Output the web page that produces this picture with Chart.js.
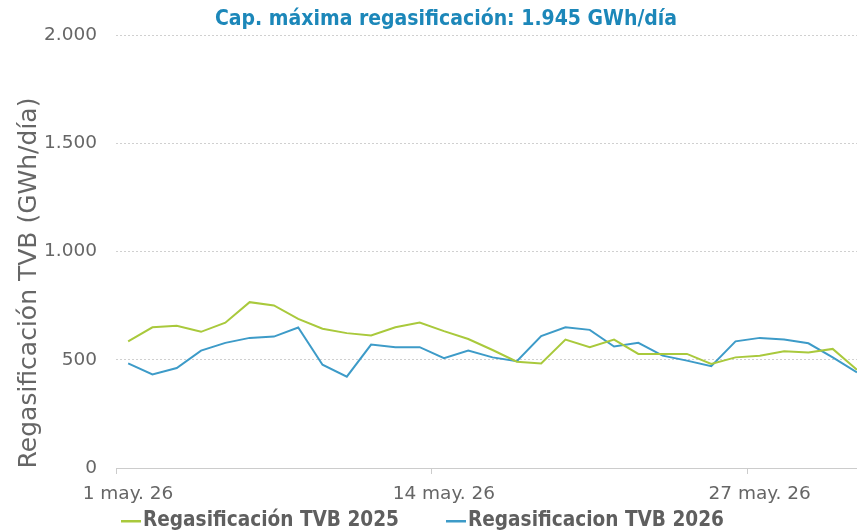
<!DOCTYPE html>
<html>
<head>
<meta charset="utf-8">
<script src="https://cdn.jsdelivr.net/npm/chart.js@4.4.1/dist/chart.umd.min.js"></script>
<style>
  html, body { margin: 0; padding: 0; background: #fff; }
  #wrap { width: 857px; height: 532px; }
</style>
</head>
<body>
<div id="wrap"><canvas id="regasChart"></canvas></div>
<script>
// Datos (GWh/día), un valor por día de mayo
var days = [1, 2, 3, 4, 5, 6, 7, 8, 9, 10, 11, 12, 13, 14, 15, 16, 17, 18, 19, 20, 21, 22, 23, 24, 25, 26, 27, 28, 29, 30, 31];
var regas2025 = [585, 650, 657, 629, 671, 766, 751, 689, 643, 623, 612, 650, 672, 632, 596, 545, 491, 483, 593, 558, 593, 527, 527, 527, 481, 511, 519, 539, 534, 550, 454];
var regas2026 = [483, 432, 462, 542, 578, 601, 607, 649, 477, 422, 570, 558, 558, 507, 542, 511, 493, 609, 650, 638, 561, 578, 519, 496, 470, 585, 601, 593, 576, 511, 442];
var tickDays = [1, 14, 27];
var tickLabels = ['1 may. 26', '14 may. 26', '27 may. 26'];
var chartTitle = 'Cap. máxima regasificación: 1.945 GWh/día';
var yTitle = 'Regasificación TVB (GWh/día)';

var verdana = "'DejaVu Sans', Verdana, sans-serif";
var condensed = "'DejaVu Sans Condensed', 'Liberation Sans Narrow', sans-serif";

function toPoints(values) {
    return values.map(function (v, i) {
        return { x: days[i] - 0.5, y: v };
    });
}

// Título, título del eje Y y leyenda dibujados a mano
var extrasPlugin = {
    id: 'extras',
    afterDraw: function (chart) {
        var ctx = chart.ctx;
        var area = chart.chartArea;

        // título
        ctx.save();
        ctx.font = "bold 21px " + condensed;
        ctx.fillStyle = '#1c87b9';
        ctx.textAlign = 'center';
        ctx.textBaseline = 'alphabetic';
        ctx.fillText(chartTitle, 446, 25);
        ctx.restore();

        // eje Y
        ctx.save();
        ctx.translate(29, area.bottom - 185);
        ctx.rotate(-Math.PI / 2);
        ctx.font = "25px " + verdana;
        ctx.fillStyle = '#666666';
        ctx.textAlign = 'center';
        ctx.textBaseline = 'middle';
        ctx.fillText(yTitle, 0, 0);
        ctx.restore();

        // leyenda
        ctx.save();
        ctx.font = "bold 20.6px " + condensed;
        ctx.textBaseline = 'middle';
        ctx.textAlign = 'left';
        var x = 121;
        var y = 521;
        chart.data.datasets.forEach(function (ds) {
            ctx.fillStyle = ds.borderColor;
            ctx.fillRect(x, y - 1, 20, 2.5);
            ctx.fillStyle = '#5f5f5f';
            ctx.fillText(ds.label, x + 22, y);
            x += 22 + ctx.measureText(ds.label).width + 47;
        });
        ctx.restore();
    }
};

var ctx = document.getElementById('regasChart');
var myChart = new Chart(ctx, {
    type: 'line',
    data: {
        datasets: [{
            label: 'Regasificación TVB 2025',
            data: toPoints(regas2025),
            borderColor: '#a9c93c',
            borderWidth: 2,
            pointRadius: 0,
            tension: 0,
            fill: false
        }, {
            label: 'Regasificacion TVB 2026',
            data: toPoints(regas2026),
            borderColor: '#3d9bc8',
            borderWidth: 2,
            pointRadius: 0,
            tension: 0,
            fill: false
        }]
    },
    options: {
        responsive: true,
        maintainAspectRatio: false,
        animation: false,
        layout: { padding: { top: 35, left: 0, right: 0, bottom: 0 } },
        scales: {
            x: {
                type: 'linear',
                min: 0,
                max: 30.5,
                afterBuildTicks: function (scale) {
                    scale.ticks = tickDays.map(function (d) { return { value: d - 1 }; });
                },
                afterFit: function (scale) { scale.height = 64; },
                grid: {
                    drawOnChartArea: false,
                    drawTicks: true,
                    tickLength: 6,
                    color: '#cccccc'
                },
                border: { display: true, color: '#cccccc', width: 1 },
                ticks: {
                    color: '#666666',
                    font: { family: verdana, size: 18.5 },
                    padding: 9,
                    labelOffset: 12,
                    maxRotation: 0,
                    callback: function (value) {
                        var i = tickDays.indexOf(value + 1);
                        return i >= 0 ? tickLabels[i] : '';
                    }
                }
            },
            y: {
                min: 0,
                max: 2000,
                afterFit: function (scale) { scale.width = 116; },
                ticks: {
                    stepSize: 500,
                    color: '#666666',
                    font: { family: verdana, size: 18.5 },
                    padding: 19,
                    callback: function (value) {
                        return value.toLocaleString('de-DE');
                    }
                },
                grid: {
                    color: '#d0d0d0',
                    drawTicks: false
                },
                border: { display: false, dash: [2, 2] }
            }
        },
        plugins: {
            title: { display: false },
            legend: { display: false },
            tooltip: { enabled: false }
        }
    },
    plugins: [extrasPlugin]
});
</script>
</body>
</html>
